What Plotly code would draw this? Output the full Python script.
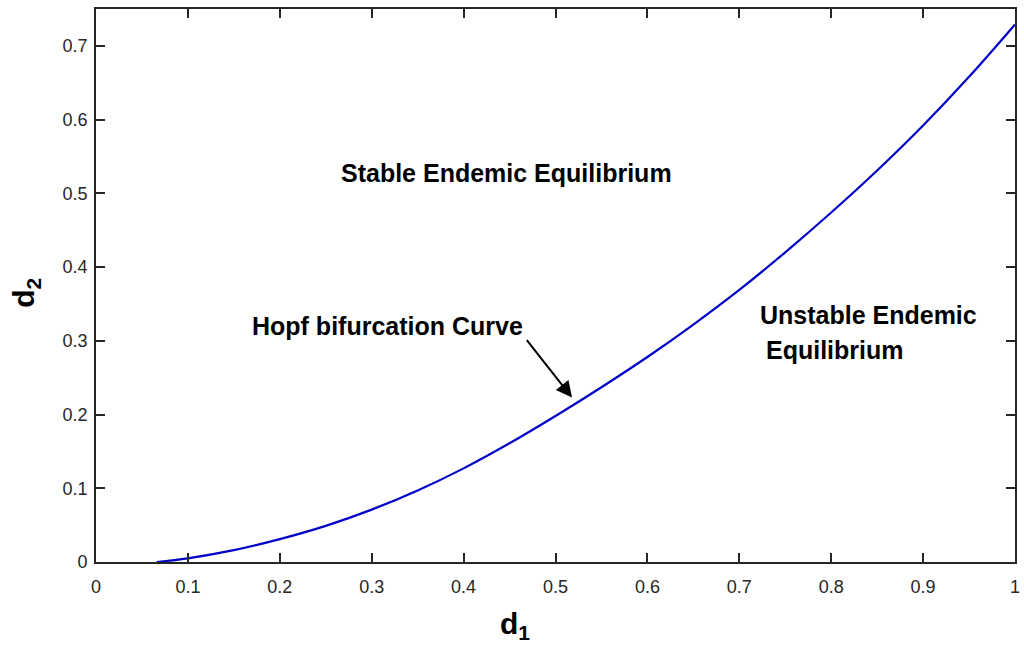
import plotly.graph_objects as go

# Hopf bifurcation curve in the (d1, d2) parameter plane
d1 = [0.066, 0.1, 0.15, 0.2, 0.25, 0.3, 0.35, 0.4, 0.45, 0.5, 0.55, 0.6,
      0.65, 0.7, 0.75, 0.8, 0.85, 0.9, 0.95, 1.0]
d2 = [0.0, 0.005, 0.016, 0.031, 0.049, 0.071, 0.097, 0.127, 0.161, 0.198,
      0.237, 0.278, 0.322, 0.369, 0.420, 0.474, 0.531, 0.592, 0.658, 0.729]

x_ticks = [0, 0.1, 0.2, 0.3, 0.4, 0.5, 0.6, 0.7, 0.8, 0.9, 1]
x_labels = ["0", "0.1", "0.2", "0.3", "0.4", "0.5", "0.6", "0.7", "0.8", "0.9", "1"]
y_ticks = [0, 0.1, 0.2, 0.3, 0.4, 0.5, 0.6, 0.7]
y_labels = ["0", "0.1", "0.2", "0.3", "0.4", "0.5", "0.6", "0.7"]

AX = "#262626"
FONT = "Liberation Sans, Arial, sans-serif"

fig = go.Figure()
fig.add_trace(go.Scatter(x=d1, y=d2, mode="lines", line=dict(color="#0000c8", width=2.2, shape="spline", smoothing=1.0),
                         showlegend=False, hoverinfo="skip"))

axis_common = dict(showgrid=False, zeroline=False, showline=True, linecolor=AX, linewidth=1.6,
                   mirror="ticks", ticks="inside", ticklen=9, tickwidth=1.6, tickcolor=AX,
                   tickfont=dict(family=FONT, size=18, color=AX))

fig.update_xaxes(range=[0, 1], tickvals=x_ticks, ticktext=x_labels, ticklabelstandoff=8, **axis_common)
fig.update_yaxes(range=[0, 0.75], tickvals=y_ticks, ticktext=y_labels, ticklabelstandoff=3, **axis_common)

label_font = dict(family=FONT, size=25, color="#000000")
title_font = dict(family=FONT, size=30, color="#000000")
annotations = [
    dict(x=0.447, y=0.528, xref="x", yref="y", text="<b>Stable Endemic Equilibrium</b>",
         showarrow=False, font=label_font, xanchor="center", yanchor="middle"),
    dict(x=0.3175, y=0.3207, xref="x", yref="y", text="<b>Hopf bifurcation Curve</b>",
         showarrow=False, font=label_font, xanchor="center", yanchor="middle"),
    dict(x=0.7208, y=0.3356, xref="x", yref="y", text="<b>Unstable Endemic</b>",
         showarrow=False, font=label_font, xanchor="left", yanchor="middle"),
    dict(x=0.7273, y=0.287, xref="x", yref="y", text="<b>Equilibrium</b>",
         showarrow=False, font=label_font, xanchor="left", yanchor="middle"),
    dict(x=0.518, y=0.223, xref="x", yref="y", ax=0.4675, ay=0.303, axref="x", ayref="y",
         text="", showarrow=True, arrowhead=2, arrowsize=1.6, arrowwidth=2, arrowcolor="#000000"),
    # axis titles
    dict(x=0.4562, y=-0.078, xref="paper", yref="paper", text="<b>d<sub>1</sub></b>",
         showarrow=False, font=title_font, xanchor="center", yanchor="top"),
    dict(x=-0.076, y=0.487, xref="paper", yref="paper", text="<b>d<sub>2</sub></b>",
         showarrow=False, font=title_font, textangle=-90, xanchor="center", yanchor="middle"),
]

fig.update_layout(width=1024, height=656, margin=dict(l=96, r=4, t=9, b=94),
                  paper_bgcolor="white", plot_bgcolor="white", annotations=annotations)

fig.write_html("out.html")
